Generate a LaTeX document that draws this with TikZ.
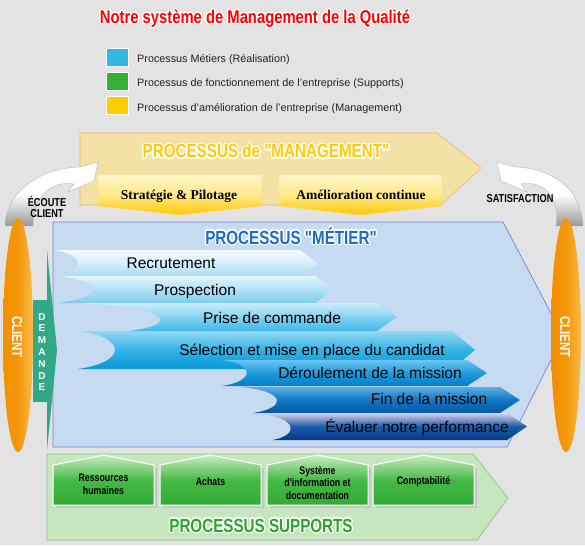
\documentclass[tikz,border=0pt]{standalone}
\usepackage{fontspec}
\setmainfont{Liberation Sans}
\newfontfamily\condfont[FakeStretch=0.8]{Liberation Sans}
\newfontfamily\serfont{Liberation Serif}
\usepackage[copies]{contour}
\contourlength{1.3pt}
\contournumber{16}
\definecolor{bg}{HTML}{E3E3E3}
\definecolor{legtext}{HTML}{222222}
\definecolor{lgblue}{HTML}{33B8E6}
\definecolor{lggreen}{HTML}{35B035}
\definecolor{lgyellow}{HTML}{FFCC00}
\definecolor{mgfill}{HTML}{F4E1A5}
\definecolor{mgdraw}{HTML}{E8B66C}
\definecolor{mtfill}{HTML}{C6DAF1}
\definecolor{mtdraw}{HTML}{7281DA}
\definecolor{spfill}{HTML}{C7E6BF}
\definecolor{spdraw}{HTML}{86C886}
\definecolor{mtblue}{HTML}{1C6CC6}
\definecolor{spgreen}{HTML}{2BA52B}
\definecolor{dmgreen}{HTML}{31A886}
\definecolor{orA}{HTML}{F29000}
\definecolor{orB}{HTML}{FABB48}
\definecolor{ylA}{HTML}{FFF5C8}
\definecolor{ylB}{HTML}{FFE98A}
\definecolor{ylC}{HTML}{FFC800}
\definecolor{gnA}{HTML}{C8EDC2}
\definecolor{gnB}{HTML}{46B946}
\definecolor{gnC}{HTML}{33AA33}
\definecolor{aT1}{HTML}{F4FBFE}\definecolor{aM1}{HTML}{D4EFFA}\definecolor{aB1}{HTML}{A6DBF2}
\definecolor{aT2}{HTML}{E2F4FC}\definecolor{aM2}{HTML}{B2E2F6}\definecolor{aB2}{HTML}{7DCBEC}
\definecolor{aT3}{HTML}{CDEDFA}\definecolor{aM3}{HTML}{84D2F1}\definecolor{aB3}{HTML}{3DB8E6}
\definecolor{aT4}{HTML}{92D8F3}\definecolor{aM4}{HTML}{35B2E6}\definecolor{aB4}{HTML}{0698D6}
\definecolor{aT5}{HTML}{6AC6EF}\definecolor{aM5}{HTML}{1E9ADB}\definecolor{aB5}{HTML}{077EC5}
\definecolor{aT6}{HTML}{5AAEE2}\definecolor{aM6}{HTML}{1277C4}\definecolor{aB6}{HTML}{0256A5}
\definecolor{aT7}{HTML}{D8D2EC}\definecolor{aM7}{HTML}{1B5CA8}\definecolor{aB7}{HTML}{033A88}
\begin{document}
\begin{tikzpicture}[x=1pt,y=-1pt,
  titletxt/.style={anchor=base, inner sep=0, font=\condfont\bfseries\fontsize{19}{20}\selectfont},
  lbl/.style={anchor=base, inner sep=0, text=black, font=\fontsize{15.5}{17}\selectfont},
  legendtxt/.style={anchor=base west, inner sep=0, text=legtext, font=\fontsize{10.8}{12}\selectfont},
  sqr/.style={draw=white, line width=1pt},
  boxtxt/.style={inner sep=0, align=center, text=black, font=\condfont\bfseries\fontsize{11}{12.8}\selectfont},
  smalltxt/.style={inner sep=0, align=center, text=black, font=\condfont\bfseries\fontsize{11.5}{11}\selectfont},
  sertxt/.style={anchor=base, inner sep=0, text=black, font=\serfont\bfseries\fontsize{13.5}{15}\selectfont},
  clienttxt/.style={inner sep=0, text=white, rotate=-90, font=\condfont\bfseries\fontsize{14.5}{15}\selectfont},
  curvearrow/.style={top color=white, bottom color=gray!80, middle color=white},
  arrowline/.style={draw=gray!55, line width=0.4pt},
  ellip/.style={left color=orA, right color=orB, middle color=orA!85!orB},
  strat/.style={top color=ylA, bottom color=ylC, middle color=ylB},
  supbox/.style={top color=gnA, bottom color=gnC, middle color=gnB}
]
\useasboundingbox (0,0) rectangle (585,545);
\fill[bg] (0,0) rectangle (585,545);

% title
\node[titletxt, text=red, font=\condfont\bfseries\fontsize{18.5}{20}\selectfont] (title) at (255,23.5) {\contour{white}{Notre système de Management de la Qualité}};

% legend
\fill[lgblue] (106,49) rectangle (128,67);
\fill[lggreen] (106,73) rectangle (128,91);
\fill[lgyellow] (106,97) rectangle (128,115);
\draw[sqr] (106,49) rectangle (128,67) (106,73) rectangle (128,91) (106,97) rectangle (128,115);
\node[legendtxt] (leg1) at (137,63) {Processus Métiers (Réalisation)};
\node[legendtxt] (leg2) at (137,87) {Processus de fonctionnement de l'entreprise (Supports)};
\node[legendtxt] (leg3) at (137,111.5) {Processus d'amélioration de l'entreprise (Management)};

% management panel
\filldraw[fill=mgfill, draw=mgdraw, line width=0.6pt] (80,133) -- (437,133) -- (481,168) -- (441,205) -- (80,205) -- cycle;
\node[titletxt, text=lgyellow] (mgtitle) at (266,158) {\contour{white}{PROCESSUS de "MANAGEMENT"}};
\shade[strat] (98,175) -- (262,175) -- (262,206) -- (180,215) -- (98,206) -- cycle;
\shade[strat] (279,175) -- (442,175) -- (442,206) -- (360,215) -- (279,206) -- cycle;
\draw[draw=ylC!60!white, line width=0.4pt] (98,175) -- (262,175) -- (262,206) -- (180,215) -- (98,206) -- cycle
  (279,175) -- (442,175) -- (442,206) -- (360,215) -- (279,206) -- cycle;
\node[sertxt] (strat) at (179,200) {Stratégie \& Pilotage};
\node[sertxt] (amel) at (361,200) {Amélioration continue};

% metier panel
\filldraw[fill=mtfill, draw=mtdraw, line width=0.7pt] (53,222) -- (503,222) -- (563,336) -- (507,447) -- (53,447) -- cycle;
\node[titletxt, text=mtblue] (mttitle) at (291,244) {\contour{white}{PROCESSUS "MÉTIER"}};

% process arrows
\shade[top color=aT1, bottom color=aB1, middle color=aM1] (53,250) -- (300,250) -- (318,263.5) -- (300,277) -- (55,277) .. controls (86,272) and (86,254) .. (53,250) -- cycle;
\shade[top color=aT2, bottom color=aB2, middle color=aM2] (55,276) -- (315,276) -- (333,289.5) -- (315,303) -- (57,303) .. controls (105,298) and (105,280) .. (55,276) -- cycle;
\shade[top color=aT3, bottom color=aB3, middle color=aM3] (70,303) -- (377,303) -- (397,317) -- (377,331) -- (128,331) .. controls (178,326) and (178,306) .. (70,303) -- cycle;
\shade[top color=aT4, bottom color=aB4, middle color=aM4] (80,331) -- (452,331) -- (475,350) -- (452,369) -- (78,369) .. controls (127,362) and (127,338) .. (80,331) -- cycle;
\shade[top color=aT5, bottom color=aB5, middle color=aM5] (222,360) -- (467,360) -- (487,373) -- (467,386) -- (222,386) .. controls (255,381) and (255,364) .. (222,360) -- cycle;
\shade[top color=aT6, bottom color=aB6, middle color=aM6] (240,387) -- (500,387) -- (520,400) -- (500,413) -- (253,413) .. controls (287,408) and (287,391) .. (240,387) -- cycle;
\shade[top color=aT7, bottom color=aB7, middle color=aM7] (255,413) -- (507,413) -- (527,426.5) -- (507,440) -- (273,440) .. controls (299,435) and (299,417) .. (255,413) -- cycle;
\node[lbl] (p1) at (171,268) {Recrutement};
\node[lbl] (p2) at (195,295) {Prospection};
\node[lbl] (p3) at (272,323) {Prise de commande};
\node[lbl] (p4) at (312,355) {Sélection et mise en place du candidat};
\node[lbl] (p5) at (370,378) {Déroulement de la mission};
\node[lbl] (p6) at (429,404) {Fin de la mission};
\node[lbl] (p7) at (417,432) {Évaluer notre performance};

% demande
\fill[dmgreen] (33,300) rectangle (50,402);
\fill[dmgreen] (47,250) -- (57,350) -- (47,450) -- cycle;
\node[inner sep=0, align=center, text=white, font=\bfseries\fontsize{10}{11.8}\selectfont] (dem) at (42,352) {D\\E\\M\\A\\N\\D\\E};

% supports panel
\filldraw[fill=spfill, draw=spdraw, line width=0.7pt] (47,454) -- (473,454) -- (508,498) -- (477,540) -- (47,540) -- cycle;
\fill[gray!45] (56,468) -- (106.5,458) -- (157,468) -- (157,508) -- (56,508) -- cycle
  (163,468) -- (213.5,458) -- (264,468) -- (264,508) -- (163,508) -- cycle
  (270,468) -- (320.5,458) -- (371,468) -- (371,508) -- (270,508) -- cycle
  (376,468) -- (426.5,458) -- (477,468) -- (477,508) -- (376,508) -- cycle;
\shade[supbox] (53,465) -- (103.5,455) -- (154,465) -- (154,505) -- (53,505) -- cycle;
\shade[supbox] (160,465) -- (210.5,455) -- (261,465) -- (261,505) -- (160,505) -- cycle;
\shade[supbox] (267,465) -- (317.5,455) -- (368,465) -- (368,505) -- (267,505) -- cycle;
\shade[supbox] (373,465) -- (423.5,455) -- (474,465) -- (474,505) -- (373,505) -- cycle;
\draw[draw=white, line width=1pt] (53,465) -- (103.5,455) -- (154,465) -- (154,505) -- (53,505) -- cycle
  (160,465) -- (210.5,455) -- (261,465) -- (261,505) -- (160,505) -- cycle
  (267,465) -- (317.5,455) -- (368,465) -- (368,505) -- (267,505) -- cycle
  (373,465) -- (423.5,455) -- (474,465) -- (474,505) -- (373,505) -- cycle;
\node[boxtxt] (s1) at (103.5,484) {Ressources\\humaines};
\node[boxtxt] (s2) at (210.5,482) {Achats};
\node[boxtxt] (s3) at (317.5,483) {Système\\d'information et\\documentation};
\node[boxtxt] (s4) at (423.5,482) {Comptabilité};
\node[titletxt, text=spgreen] (sptitle) at (261,532) {\contour{white}{PROCESSUS SUPPORTS}};

% curved arrows
\shade[curvearrow] (5,226) .. controls (6,192) and (40,168) .. (80,167) -- (98,162) -- (94,181) -- (68,192) -- (74,184) .. controls (50,180) and (33,198) .. (33,226) -- cycle;
\draw[arrowline] (5,226) .. controls (6,192) and (40,168) .. (80,167) -- (98,162) -- (94,181) -- (68,192) -- (74,184) .. controls (50,180) and (33,198) .. (33,226);
\shade[curvearrow] (583,226) .. controls (582,192) and (555,168) .. (515,167) -- (497,162) -- (501,181) -- (527,192) -- (521,184) .. controls (545,180) and (560,198) .. (556,226) -- cycle;
\draw[arrowline] (583,226) .. controls (582,192) and (555,168) .. (515,167) -- (497,162) -- (501,181) -- (527,192) -- (521,184) .. controls (545,180) and (560,198) .. (556,226);
\node[smalltxt] (ecoute) at (47,207) {ÉCOUTE\\[0.5pt]CLIENT};
\node[smalltxt, anchor=base] (satis) at (520,203) {SATISFACTION};

% client ellipses
\shade[ellip] (18,335) ellipse [x radius=15, y radius=117];
\shade[ellip] (566,335) ellipse [x radius=15, y radius=117];
\node[clienttxt] (cl1) at (17,337) {CLIENT};
\node[clienttxt] (cl2) at (565,337) {CLIENT};
\end{tikzpicture}
\end{document}
